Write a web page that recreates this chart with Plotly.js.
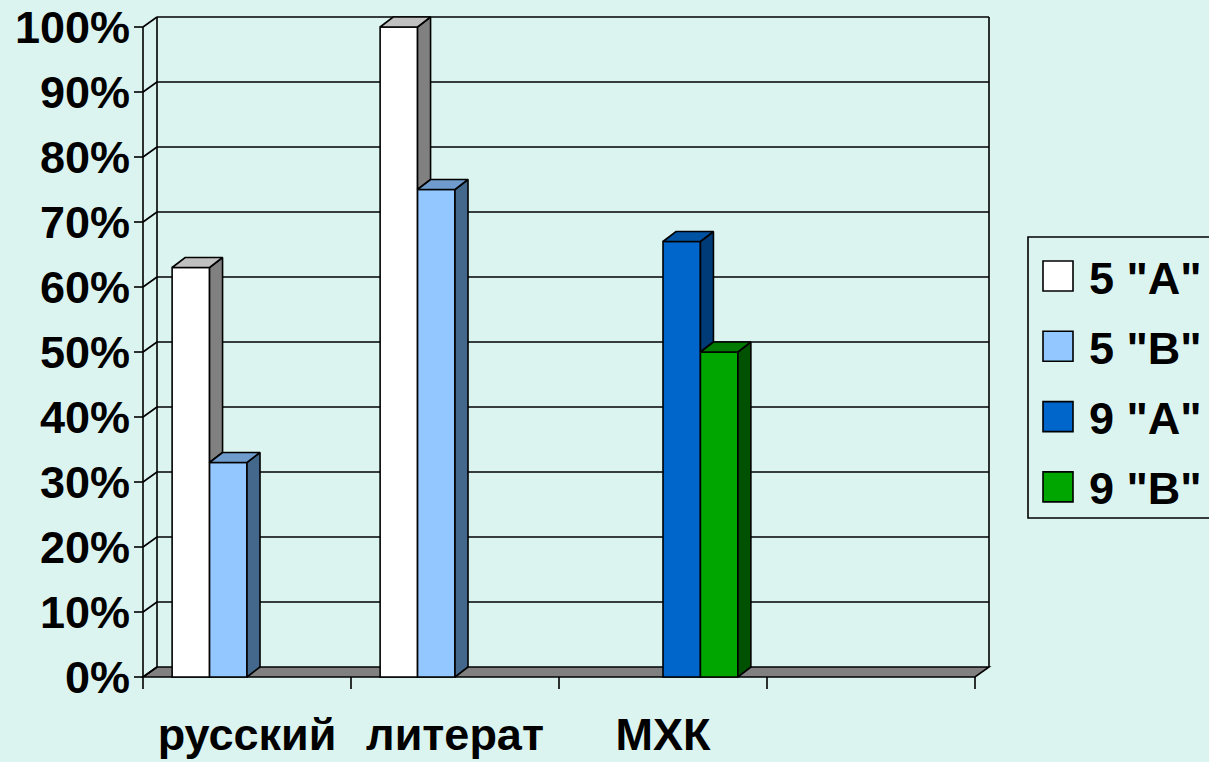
<!DOCTYPE html>
<html><head><meta charset="utf-8">
<script src="https://cdn.plot.ly/plotly-3.0.1.min.js"></script>
<style>html,body{margin:0;padding:0;background:#dcf4f0;overflow:hidden}#chart{width:1209px;height:762px}</style>
</head><body><div id="chart"></div>
<script>
// ---------- data ----------
const categories = ['русский', 'литерат', 'МХК', ''];
const seriesNames = ['5 "А"', '5 "В"', '9 "А"', '9 "В"'];
const s5A = [63, 100, null, null];
const s5V = [33, 75, null, null];
const s9A = [null, null, 67, null];
const s9V = [null, null, 50, null];
const yTickValues = [0, 10, 20, 30, 40, 50, 60, 70, 80, 90, 100];
const yTickLabels = ['0%', '10%', '20%', '30%', '40%', '50%', '60%', '70%', '80%', '90%', '100%'];

// ---------- styles ----------
const seriesValues = [s5A, s5V, s9A, s9V];
const frontColors = ['#ffffff', '#92c8ff', '#0066cc', '#00a600'];
const sideColors  = ['#808080', '#44678c', '#003b78', '#005200'];
const topColors   = ['#c0c0c0', '#6f9ccc', '#0052a3', '#007a00'];
const BG = '#dcf4f0';
const FONT = {family: '"Liberation Sans", Arial, sans-serif', size: 45, color: '#000', weight: 'bold'};

// ---------- geometry (pixels) ----------
const FX0 = 143, FY0 = 677;      // pixel of front x=-0.5 and y=0
const PXX = 208, PXY = 6.5;      // pixels per category / per percent
const L = 131, R = 1000, T = 8, B = 694;   // plot area edges
const xRange = [-0.5 - (FX0 - L) / PXX, -0.5 + (R - FX0) / PXX];
const yRange = [-(B - FY0) / PXY, (FY0 - T) / PXY];
const WDX = 14 / PXX, WDY = 10 / PXY;   // wall depth
const BDX = 13 / PXX, BDY = 10 / PXY;   // bar depth
const nS = seriesValues.length, groupW = 0.72, barW = groupW / nS;
const nC = categories.length;
const xIdx = categories.map((c, i) => i);
const xMin = -0.5, xMax = nC - 0.5, yMax = yTickValues[yTickValues.length - 1];
const LINE = {color: '#000', width: 1.6};

const traces = [];
// front faces as bars
seriesValues.forEach((vals, i) => {
  traces.push({
    type: 'bar', x: xIdx, y: vals, name: seriesNames[i], showlegend: false,
    width: barW, offset: -groupW / 2 + barW * i,
    marker: {color: frontColors[i], line: {color: '#000', width: 1.6}},
    hoverinfo: 'skip'
  });
});
// side and top faces
for (let j = 0; j < nC; j++) {
  for (let i = 0; i < nS; i++) {
    const v = seriesValues[i][j];
    if (v === null || v === undefined) continue;
    const x0 = j - groupW / 2 + barW * i, x1 = x0 + barW;
    const nxt = (i + 1 < nS) ? seriesValues[i + 1][j] : null;
    const b = (nxt !== null && nxt !== undefined) ? Math.min(nxt, v) : 0;
    traces.push({
      type: 'scatter', mode: 'lines', fill: 'toself', fillcolor: sideColors[i],
      x: [x1, x1 + BDX, x1 + BDX, x1, x1], y: [b, b + BDY, v + BDY, v, b],
      line: LINE, showlegend: false, hoverinfo: 'skip'
    });
    traces.push({
      type: 'scatter', mode: 'lines', fill: 'toself', fillcolor: topColors[i],
      x: [x0, x0 + BDX, x1 + BDX, x1, x0], y: [v, v + BDY, v + BDY, v, v],
      line: LINE, showlegend: false, hoverinfo: 'skip'
    });
  }
}

// ---------- shapes: walls, floor, axes ----------
const shapes = [];
const ln = (x0, y0, x1, y1, layer) => ({type: 'line', xref: 'x', yref: 'y', x0, y0, x1, y1, line: LINE, layer: layer || 'below'});
// floor
shapes.push({type: 'path', xref: 'x', yref: 'y', layer: 'below',
  path: `M${xMin},0 L${xMax},0 L${xMax + WDX},${WDY} L${xMin + WDX},${WDY} Z`,
  fillcolor: '#808080', line: LINE});
// back wall grid lines and left wall diagonals, y ticks
yTickValues.forEach(v => {
  if (v > 0) shapes.push(ln(xMin + WDX, v + WDY, xMax + WDX, v + WDY));
  shapes.push(ln(xMin, v, xMin + WDX, v + WDY));
  shapes.push(ln(xMin - 9 / PXX, v, xMin, v));
});
shapes.push(ln(xMin + WDX, WDY, xMin + WDX, yMax + WDY));
shapes.push(ln(xMax + WDX, WDY, xMax + WDX, yMax + WDY));
shapes.push(ln(xMin, 0, xMin, yMax));
// x ticks at category boundaries
for (let k = 0; k <= nC; k++) shapes.push(ln(k - 0.5, 0, k - 0.5, -12 / PXY));

// ---------- manual legend ----------
const W = 1209;
const px = p => (p - L) / (R - L);
const py = p => (B - p) / (B - T);
shapes.push({type: 'rect', xref: 'paper', yref: 'paper', x0: px(1028), x1: px(1220), y0: py(237), y1: py(518), line: {color: '#000', width: 1.6}});
const annotations = [];
seriesNames.forEach((name, i) => {
  const cy = 276 + i * 70.3;
  shapes.push({type: 'rect', xref: 'paper', yref: 'paper', x0: px(1043), x1: px(1073), y0: py(cy - 15), y1: py(cy + 15),
    fillcolor: frontColors[i], line: {color: '#000', width: 1.6}});
  annotations.push({xref: 'paper', yref: 'paper', x: px(1087), y: py(cy + 2), xanchor: 'left', yanchor: 'middle',
    text: name, showarrow: false, font: FONT});
});

const layout = {
  width: 1209, height: 762,
  margin: {l: L, r: W - R, t: T, b: 762 - B, autoexpand: false},
  paper_bgcolor: BG, plot_bgcolor: 'rgba(0,0,0,0)',
  showlegend: false, barmode: 'overlay', hovermode: false,
  xaxis: {range: xRange, autorange: false, tickvals: xIdx, ticktext: categories,
    ticks: 'outside', ticklen: 1, tickcolor: 'rgba(0,0,0,0)', showline: false, showgrid: false, zeroline: false,
    tickfont: FONT, fixedrange: true},
  yaxis: {range: yRange, autorange: false, tickvals: yTickValues, ticktext: yTickLabels,
    ticks: '', showline: false, showgrid: false, zeroline: false, tickfont: FONT, fixedrange: true},
  shapes, annotations
};
Plotly.newPlot('chart', traces, layout, {staticPlot: true, displayModeBar: false});
</script></body></html>
